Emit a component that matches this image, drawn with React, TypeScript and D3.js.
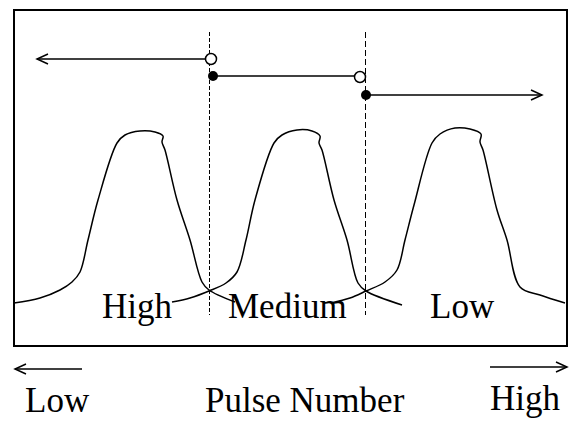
import React from 'react'
import * as d3 from 'd3'

// frame of the plot, in px
const W = 573
const H = 421
const frame = { left: 14, top: 10, right: 567, bottom: 346 }

// data domain (pulse number, arbitrary units / amplitude)
const xMax = 110.6
const yMax = 67.2

// three pulse-height peaks
const peak1X = [0, 5.2, 9.2, 11.6, 13.2, 14.8, 16.8, 20.6, 22.2, 25.2, 28.2, 29.8, 29.6, 30.2, 32.6, 35.2, 37.6, 39.0, 44.2]
const peak1Y = [8.6, 9.6, 11.2, 12.8, 14.8, 21.2, 29.2, 40.6, 42.2, 43.0, 42.8, 42.0, 40.8, 39.2, 29.2, 21.2, 12.8, 11.2, 8.8]
const peak2X = [31.6, 35.2, 39.0, 42.4, 44.6, 46.4, 48.2, 52.0, 53.6, 56.6, 59.6, 61.2, 61.0, 61.6, 64.0, 66.6, 68.8, 70.4, 77.6]
const peak2Y = [8.8, 9.6, 11.0, 12.6, 14.8, 21.2, 29.2, 40.6, 42.2, 43.2, 43.0, 42.0, 40.6, 39.2, 29.2, 21.2, 12.6, 11.0, 8.2]
const peak3X = [63.4, 67.2, 70.4, 74.2, 76.6, 78.2, 80.0, 83.6, 85.2, 88.2, 91.2, 93.4, 93.2, 93.8, 96.6, 98.6, 101.2, 105.2, 110.2]
const peak3Y = [8.6, 9.6, 11.0, 12.8, 15.2, 21.2, 28.2, 40.6, 42.4, 43.6, 43.4, 42.4, 40.8, 39.2, 27.2, 21.2, 11.8, 10.2, 8.6]

// step function: thresholds and levels
const thresholds = [39.1, 70.3]
const dashTop = 62.8
const dashBottom = 6.2
const stepStart = 4.6
const stepEnd = 105.6
const openDotX = [39.4, 69.2]
const openDotY = [57.4, 53.8]
const filledDotX = [39.8, 70.4]
const filledDotY = [54.0, 50.2]

const regionLabels = ['High', 'Medium', 'Low']
const regionLabelX = [17.6, 42.8, 83.2]
const regionLabelY = 5.6

const FONT = '"Liberation Serif", "Times New Roman", serif'

const arrowHead = (tx: number, ty: number, dir: number) =>
  `M${tx - dir * 11},${ty - 5} L${tx},${ty} L${tx - dir * 11},${ty + 5}`

export default function App() {
  const x = d3.scaleLinear().domain([0, xMax]).range([frame.left, frame.right])
  const y = d3.scaleLinear().domain([0, yMax]).range([frame.bottom, frame.top])

  const line = d3.line<[number, number]>()
    .x(d => x(d[0]))
    .y(d => y(d[1]))
    .curve(d3.curveCatmullRom.alpha(0.5))

  const peaks = [
    peak1X.map((v, i) => [v, peak1Y[i]] as [number, number]),
    peak2X.map((v, i) => [v, peak2Y[i]] as [number, number]),
    peak3X.map((v, i) => [v, peak3Y[i]] as [number, number]),
  ]

  const r = 5.5

  return (
    <svg width={W} height={H} style={{ position: 'absolute', left: 0, top: 0 }}>
      <rect x={0} y={0} width={W} height={H} fill="#fff" />
      <rect x={x(0)} y={y(yMax)} width={x(xMax) - x(0)} height={y(0) - y(yMax)}
        fill="none" stroke="#000" strokeWidth={2} />

      {/* dashed thresholds */}
      {thresholds.map((t, i) => (
        <line key={i} x1={x(t)} x2={x(t)} y1={y(dashTop)} y2={y(dashBottom)}
          stroke="#000" strokeWidth={1} strokeDasharray={i === 0 ? '4,2' : '6,3'} />
      ))}

      {/* peaks */}
      {peaks.map((p, i) => (
        <path key={i} d={line(p) || ''} fill="none" stroke="#000" strokeWidth={1.5} />
      ))}

      {/* step function */}
      <line x1={x(stepStart)} x2={x(openDotX[0]) - r} y1={y(openDotY[0])} y2={y(openDotY[0])} stroke="#000" strokeWidth={1.5} />
      <path d={arrowHead(x(stepStart), y(openDotY[0]), -1)} fill="none" stroke="#000" strokeWidth={1.5} />
      <line x1={x(filledDotX[0])} x2={x(openDotX[1]) - r} y1={y(filledDotY[0])} y2={y(filledDotY[0])} stroke="#000" strokeWidth={1.5} />
      <line x1={x(filledDotX[1])} x2={x(stepEnd)} y1={y(filledDotY[1])} y2={y(filledDotY[1])} stroke="#000" strokeWidth={1.5} />
      <path d={arrowHead(x(stepEnd), y(filledDotY[1]), 1)} fill="none" stroke="#000" strokeWidth={1.5} />
      {openDotX.map((v, i) => (
        <circle key={'o' + i} cx={x(v)} cy={y(openDotY[i])} r={r} fill="#fff" stroke="#000" strokeWidth={1.5} />
      ))}
      {filledDotX.map((v, i) => (
        <circle key={'f' + i} cx={x(v)} cy={y(filledDotY[i])} r={5} fill="#000" />
      ))}

      {/* region labels */}
      {regionLabels.map((s, i) => (
        <text key={s} x={x(regionLabelX[i])} y={y(regionLabelY)} fontFamily={FONT} fontSize={35} fill="#000">{s}</text>
      ))}

      {/* axis arrows below */}
      <line x1={15} x2={82} y1={369} y2={369} stroke="#000" strokeWidth={1.5} />
      <path d={arrowHead(15, 369, -1)} fill="none" stroke="#000" strokeWidth={1.5} />
      <line x1={490} x2={567} y1={367} y2={367} stroke="#000" strokeWidth={1.5} />
      <path d={arrowHead(567, 367, 1)} fill="none" stroke="#000" strokeWidth={1.5} />
      <text x={25} y={412} fontFamily={FONT} fontSize={35}>Low</text>
      <text x={205} y={412} fontFamily={FONT} fontSize={35}>Pulse Number</text>
      <text x={490} y={410} fontFamily={FONT} fontSize={35}>High</text>
    </svg>
  )
}
